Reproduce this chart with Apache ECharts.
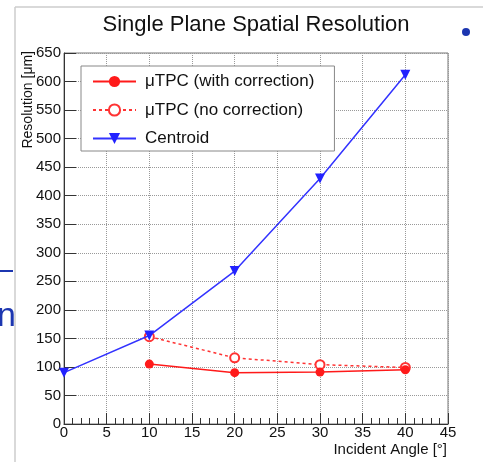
<!DOCTYPE html>
<html>
<head>
    <meta charset="utf-8">
    <title>Single Plane Spatial Resolution</title>
    <script src="https://cdn.jsdelivr.net/npm/echarts@6/dist/echarts.min.js"></script>
    <style>
        html, body { margin: 0; padding: 0; background: #fff; }
    </style>
</head>
<body>
<div id="chart" style="width: 483px;height:462px;"></div>

<script type="text/javascript">
    // data
    var angles = [0, 10, 20, 30, 40];
    var withCorr = [null, 105, 90, 91, 95];
    var noCorr = [null, 153, 116, 104, 99];
    var centroid = [90, 155, 268, 430, 612];
    var xTicks = [0, 5, 10, 15, 20, 25, 30, 35, 40, 45];
    var yTicks = [0, 50, 100, 150, 200, 250, 300, 350, 400, 450, 500, 550, 600, 650];

    function pairs(ys) {
        var out = [];
        for (var i = 0; i < angles.length; i++) {
            if (ys[i] != null) out.push([angles[i], ys[i]]);
        }
        return out;
    }

    var myChart = echarts.init(document.getElementById('chart'));
    var font = 'Liberation Sans, Arial, sans-serif';

    var option = {
        animation: false,
        backgroundColor: '#fff',
        title: {
            text: 'Single Plane Spatial Resolution',
            left: 251,
            top: 9,
            textAlign: 'center',
            textStyle: { fontFamily: font, fontSize: 22, fontWeight: 'normal', color: '#111' }
        },
        grid: {
            left: 64, right: 35, top: 53, bottom: 38,
            containLabel: false,
            outerBoundsMode: 'none',
            show: true, borderColor: '#777', borderWidth: 1
        },
        legend: {
            left: 81, top: 66,
            orient: 'vertical',
            itemWidth: 43, itemHeight: 14, itemGap: 11.5,
            padding: [7, 20, 4, 11],
            borderColor: '#888', borderWidth: 1,
            backgroundColor: '#fff',
            textStyle: { fontFamily: font, fontSize: 17, color: '#111', padding: [0, 0, 0, 4] },
            data: ['μTPC (with correction)', 'μTPC (no correction)', 'Centroid']
        },
        xAxis: {
            type: 'value',
            min: xTicks[0], max: xTicks[xTicks.length - 1], interval: 5,
            axisLine: { lineStyle: { color: '#333', width: 1 } },
            axisTick: { inside: true, length: 11, lineStyle: { color: '#333' } },
            minorTick: { show: true, splitNumber: 5, length: 6, lineStyle: { color: '#333' } },
            axisLabel: { fontFamily: font, fontSize: 15, color: '#111', margin: 1 },
            splitLine: { show: true, lineStyle: { type: 'dotted', color: '#999' } }
        },
        yAxis: {
            type: 'value',
            min: yTicks[0], max: yTicks[yTicks.length - 1], interval: 50,
            axisLine: { show: true, lineStyle: { color: '#333', width: 1 } },
            axisTick: { show: true, inside: true, length: 12, lineStyle: { color: '#333' } },
            axisLabel: { fontFamily: font, fontSize: 15, color: '#111', margin: 3 },
            splitLine: { show: true, lineStyle: { type: 'dotted', color: '#999' } }
        },
        series: [
            {
                name: 'μTPC (with correction)',
                type: 'line',
                data: pairs(withCorr),
                symbol: 'circle', symbolSize: 9,
                lineStyle: { color: '#ff1a1a', width: 1.5 },
                itemStyle: { color: '#ff1a1a' },
                z: 3
            },
            {
                name: 'μTPC (no correction)',
                type: 'line',
                data: pairs(noCorr),
                symbol: 'emptyCircle', symbolSize: 9,
                lineStyle: { color: '#ff3333', width: 1.5, type: [3, 3] },
                itemStyle: { color: '#ff3333', borderColor: '#ff3333', borderWidth: 1 },
                z: 2
            },
            {
                name: 'Centroid',
                type: 'line',
                data: pairs(centroid),
                symbol: 'triangle', symbolRotate: 180, symbolSize: 10,
                lineStyle: { color: '#3333ff', width: 1.5 },
                itemStyle: { color: '#2222ff' },
                z: 4
            }
        ],
        graphic: [
            // slide pieces around the plot
            { type: 'line', shape: { x1: 15, y1: 7, x2: 483, y2: 7 }, style: { stroke: '#ccc', lineWidth: 1.5 } },
            { type: 'line', shape: { x1: 15, y1: 7, x2: 15, y2: 462 }, style: { stroke: '#ccc', lineWidth: 1.5 } },
            { type: 'line', shape: { x1: 0, y1: 271, x2: 13, y2: 271 }, style: { stroke: '#1c36b0', lineWidth: 2 } },
            { type: 'text', left: -3, top: 300, style: { text: 'n', fontFamily: font, fontSize: 34, fill: '#1c36b0' } },
            { type: 'circle', shape: { cx: 466, cy: 32, r: 4 }, style: { fill: '#1c36b0' } },
            // axis titles
            {
                type: 'text', x: 28, y: 51, rotation: Math.PI / 2,
                style: { text: 'Resolution [μm]', fontFamily: font, fontSize: 14, fill: '#111', align: 'right', verticalAlign: 'middle' }
            },
            {
                type: 'text', x: 447, y: 450,
                style: { text: 'Incident Angle [°]', fontFamily: font, fontSize: 15, fill: '#111', align: 'right', verticalAlign: 'middle' }
            }
        ]
    };
    myChart.setOption(option);
</script>
</body>
</html>
